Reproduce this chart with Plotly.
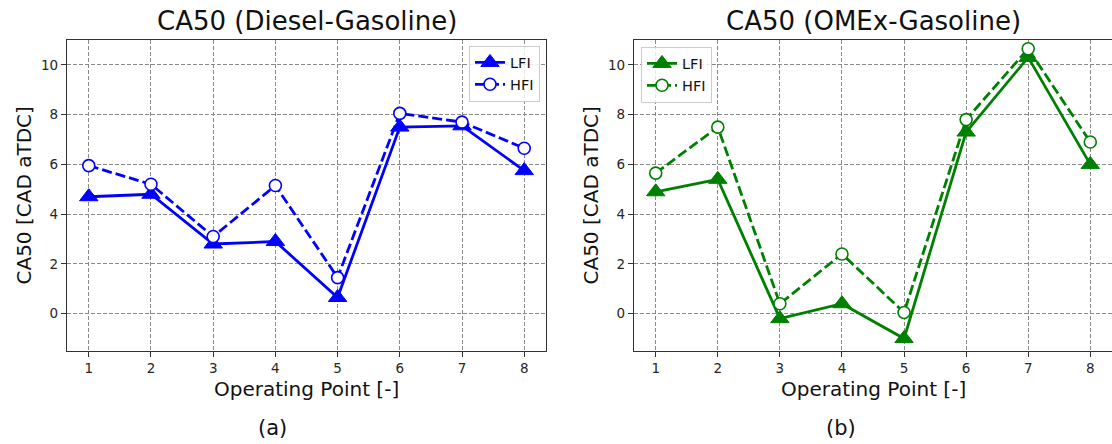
import plotly.graph_objects as go

# ---- data ----
operating_points = [1, 2, 3, 4, 5, 6, 7, 8]

diesel_lfi = [4.7, 4.8, 2.8, 2.9, 0.65, 7.5, 7.55, 5.75]
diesel_hfi = [5.95, 5.2, 3.1, 5.15, 1.45, 8.05, 7.7, 6.65]

omex_lfi = [4.9, 5.4, -0.2, 0.4, -1.0, 7.3, 10.3, 6.0]
omex_hfi = [5.65, 7.5, 0.4, 2.4, 0.05, 7.8, 10.65, 6.9]

titles = ["CA50 (Diesel-Gasoline)", "CA50 (OMEx-Gasoline)"]
y_label = "CA50 [CAD aTDC]"
x_label = "Operating Point [-]"
captions = ["(a)", "(b)"]
y_ticks = [0, 2, 4, 6, 8, 10]

BLUE = "#0000ff"
GREEN = "#008000"
FONT = "DejaVu Sans"

W, H = 1112, 444
MT, MB = 40, 93
PH = H - MT - MB  # plot height in px


def py(p):
    """pixel y (from top) -> paper y"""
    return (H - MB - p) / PH


def px(p):
    return p / W


fig = go.Figure()

def add_pair(lfi, hfi, color, xa, ya, legend):
    fig.add_trace(go.Scatter(
        x=operating_points, y=lfi, name="LFI", mode="lines+markers",
        line=dict(color=color, width=2.8),
        marker=dict(symbol="triangle-up", size=16, color=color,
                    line=dict(color=color, width=1)),
        xaxis=xa, yaxis=ya, legend=legend, cliponaxis=False))
    fig.add_trace(go.Scatter(
        x=operating_points, y=hfi, name="HFI", mode="lines+markers",
        line=dict(color=color, width=2.8, dash="10px,4px"),
        marker=dict(symbol="circle", size=12, color="white",
                    line=dict(color=color, width=1.6)),
        xaxis=xa, yaxis=ya, legend=legend, cliponaxis=False))

add_pair(diesel_lfi, diesel_hfi, BLUE, "x", "y", "legend")
add_pair(omex_lfi, omex_hfi, GREEN, "x2", "y2", "legend2")

axis_common = dict(
    showline=True, linecolor="#333333", linewidth=1.2,
    ticks="outside", ticklen=5, tickwidth=1, tickcolor="#333333",
    showgrid=True, gridcolor="#8a8a8a", gridwidth=1, griddash="4px,2px",
    zeroline=False,
    tickfont=dict(family=FONT, size=13.5, color="#262626"),
)

legend_common = dict(
    bgcolor="rgba(255,255,255,0.8)", bordercolor="#cccccc", borderwidth=1,
    font=dict(family=FONT, size=14.5, color="#111111"),
    itemsizing="trace", tracegroupgap=0,
)

fig.update_layout(
    width=W, height=H, autosize=False,
    margin=dict(l=0, r=0, t=MT, b=MB),
    paper_bgcolor="white", plot_bgcolor="white",
    font=dict(family=FONT),
    xaxis=dict(domain=[px(67), px(546)], range=[0.65, 8.35], tickvals=operating_points,
               mirror=True, anchor="y", **axis_common),
    yaxis=dict(domain=[0, 1], range=[-1.5, 11], tickvals=y_ticks,
               mirror=True, anchor="x", **axis_common),
    xaxis2=dict(domain=[px(634), 1.0], range=[0.65, 8.35], tickvals=operating_points,
                mirror=True, anchor="y2", **axis_common),
    yaxis2=dict(domain=[0, 1], range=[-1.5, 11], tickvals=y_ticks,
                mirror=False, anchor="x2", **axis_common),
    legend=dict(x=px(540), xanchor="right", y=py(45.5), yanchor="top", **legend_common),
    legend2=dict(x=px(641), xanchor="left", y=py(46.5), yanchor="top", **legend_common),
    showlegend=True,
)

centers = [(67 + 546) / 2, (634 + 1112) / 2]
ylab_x = [23, 590]
cap_x = [272, 841]
ann = []
for i in range(2):
    ann.append(dict(text=titles[i], x=px(centers[i]), y=py(21), xref="paper", yref="paper",
                    xanchor="center", yanchor="middle", showarrow=False,
                    font=dict(family=FONT, size=26, color="#111111")))
    ann.append(dict(text=x_label, x=px(centers[i]), y=py(389), xref="paper", yref="paper",
                    xanchor="center", yanchor="middle", showarrow=False,
                    font=dict(family=FONT, size=20, color="#111111")))
    ann.append(dict(text=y_label, x=px(ylab_x[i]), y=py(195.5), xref="paper", yref="paper",
                    xanchor="center", yanchor="middle", showarrow=False, textangle=-90,
                    font=dict(family=FONT, size=20, color="#111111")))
    ann.append(dict(text=captions[i], x=px(cap_x[i]), y=py(428), xref="paper", yref="paper",
                    xanchor="center", yanchor="middle", showarrow=False,
                    font=dict(family=FONT, size=21, color="#111111")))
fig.update_layout(annotations=ann)

fig.write_html("out.html")
